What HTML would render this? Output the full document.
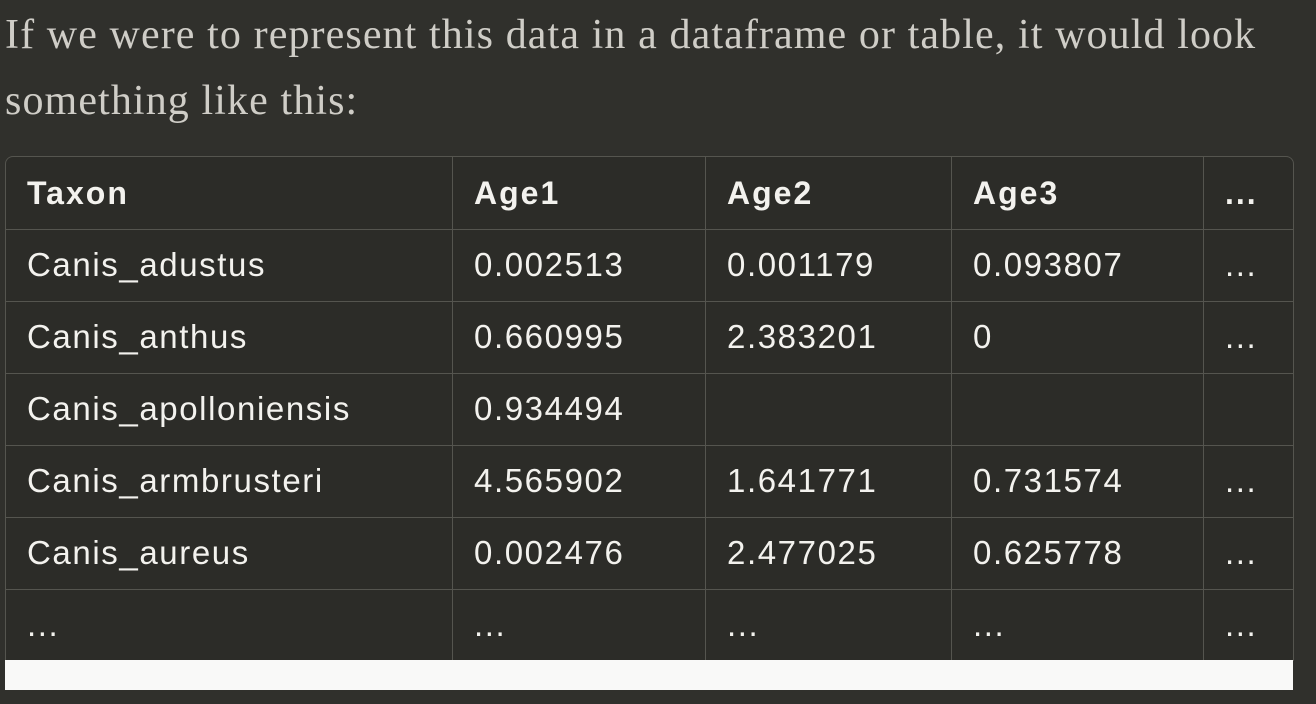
<!DOCTYPE html>
<html><head><meta charset="utf-8"><style>
body{margin:0;width:1316px;height:704px;background:#30302c;overflow:hidden;position:relative;font-family:"Liberation Sans",sans-serif}
.p{position:absolute;left:5px;top:2px;width:1310px;font-family:"Liberation Serif",serif;font-size:42px;letter-spacing:1.1px;line-height:66px;color:#cfcdc7;margin:0;white-space:nowrap}
.tbl{position:absolute;left:5px;top:156px;width:1287px;height:504px;border:1px solid #55554f;border-bottom:none;border-radius:8px 8px 0 0;background:#2c2c28;overflow:hidden}
.c{position:absolute;color:#f3f2ee;font-size:33px;letter-spacing:1.6px;line-height:72px;padding-left:21px;box-sizing:border-box;white-space:nowrap}
.h{font-weight:bold;font-size:32px;letter-spacing:2px}
.vl{position:absolute;top:0;width:1px;height:504px;background:#55554f}
.hl{position:absolute;left:0;width:1287px;height:1px;background:#55554f}
.bar{position:absolute;left:5px;top:660px;width:1288px;height:30px;background:#f9f9f8}
</style></head><body>
<p class="p">If we were to represent this data in a dataframe or table, it would look<br>something like this:</p>
<div class="tbl" id="t"></div>
<div class="bar"></div>
<script>
const cols=[0,447,700,946,1198];
const widths=[447,253,246,252,89];
const header=["Taxon","Age1","Age2","Age3","..."];
const rows=[
["Canis_adustus","0.002513","0.001179","0.093807","..."],
["Canis_anthus","0.660995","2.383201","0","..."],
["Canis_apolloniensis","0.934494","","",""],
["Canis_armbrusteri","4.565902","1.641771","0.731574","..."],
["Canis_aureus","0.002476","2.477025","0.625778","..."],
["...","...","...","...","..."]];
const t=document.getElementById('t');
[header].concat(rows).forEach((r,i)=>{
 r.forEach((v,j)=>{
  const d=document.createElement('div');
  
  
  d.className='c'+(i==0?' h':'');
  d.style.left=cols[j]+'px';d.style.top=(i*72)+'px';d.style.width=widths[j]+'px';
  d.textContent=v;t.appendChild(d);
 });
 if(i>0){const l=document.createElement('div');
  
  
  l.className='hl';l.style.top=(i*72)+'px';t.appendChild(l);}
});
cols.slice(1).forEach(x=>{const l=document.createElement('div');
 
 
 l.className='vl';l.style.left=(x-1)+'px';t.appendChild(l);});
</script>
</body></html>
